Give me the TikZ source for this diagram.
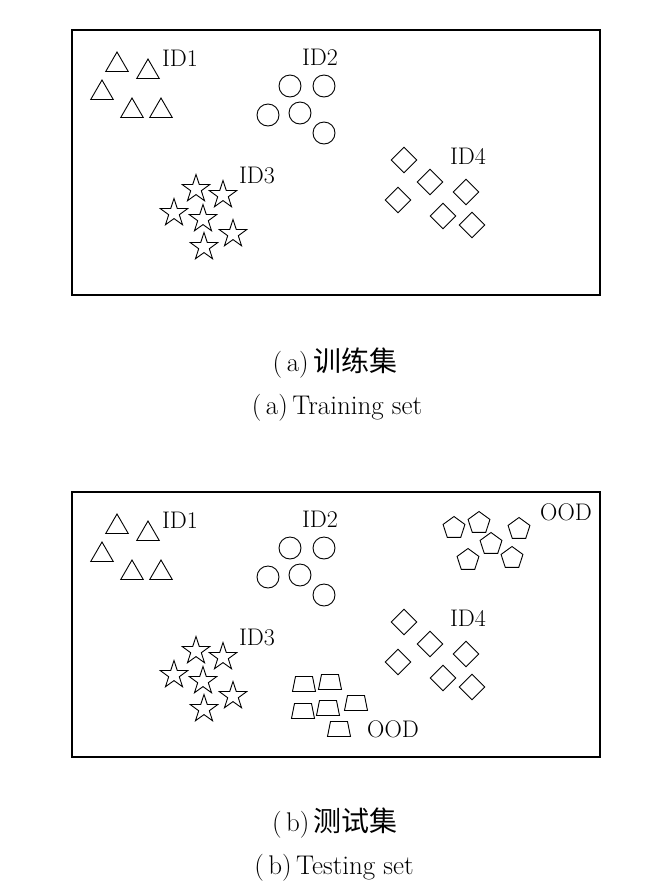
\documentclass[tikz,border=0pt]{standalone}
\usepackage{fontspec}
\newfontfamily\cjk{Noto Sans CJK SC}
\usetikzlibrary{shapes.geometric}

\tikzset{
  pt/.style={draw=black, line width=0.9pt, inner sep=0pt},
  tri/.style={pt, regular polygon, regular polygon sides=3, minimum size=26pt},
  ring/.style={pt, circle, minimum size=22pt},
  starpt/.style={pt, star, star points=5, star point ratio=2.6, minimum size=29pt},
  dia/.style={pt, diamond, minimum width=26pt, minimum height=26pt},
  penta/.style={pt, regular polygon, regular polygon sides=5, minimum size=23pt},
  lab/.style={inner sep=0pt, font=\fontsize{24}{26}\selectfont},
  captext/.style={inner sep=0pt, font=\fontsize{27}{29}\selectfont},
  frame/.style={draw=black, line width=1.6pt}
}

\begin{document}
\begin{tikzpicture}[x=1pt,y=-1pt]
  \useasboundingbox (0,0) rectangle (660,895);

  % the clusters seen in both panels
  \foreach \p/\dy in {a/0,b/462}{
    \begin{scope}[yshift=-\dy pt]
      \draw[frame] (72,30) rectangle (600,295);
      \foreach \x/\y [count=\i] in {117/65,148/72,102/93,132/111,161/111}
        \node[tri] (tri\p\i) at (\x,\y) {};
      \foreach \x/\y [count=\i] in {290/86,324/86,268/115,300/113,324/133}
        \node[ring] (ring\p\i) at (\x,\y) {};
      \foreach \x/\y [count=\i] in {196/189,223/195,174/213,203/219,233/234,204/247}
        \node[starpt] (star\p\i) at (\x,\y) {};
      \foreach \x/\y [count=\i] in {404/160,430/182,398/200,466/192,443/216,472/225}
        \node[dia] (dia\p\i) at (\x,\y) {};
      \node[lab] (id1\p) at (180,58) {ID1};
      \node[lab] (id2\p) at (320,57) {ID2};
      \node[lab] (id3\p) at (257,175) {ID3};
      \node[lab] (id4\p) at (468,156) {ID4};
    \end{scope}
  }

  % the out-of-distribution clusters, test set only
  \foreach \x/\y [count=\i] in {454/528,479/523,519/529,491/544,468/560,512/558}
    \node[penta] (penta\i) at (\x,\y) {};
  \foreach \x/\y [count=\i] in {304/684,330/682,303/711,328/708,356/703,339/729}{
    \coordinate (trap\i) at (\x,\y);
    \draw[pt, line join=miter] (trap\i) ++(-11.5,7.5) -- ++(23,0) -- ++(-3,-15)
      -- ++(-17,0) -- cycle;
  }
  \node[lab] (ood1) at (566,512) {OOD};
  \node[lab] (ood2) at (393,729) {OOD};

  % captions
  \node[captext] (capa) at (335,363) {(\,a)\,{\cjk\fontsize{28}{30}\selectfont 训练集}};
  \node[captext] (capaen) at (337,408) {(\,a)\,Training set};
  \node[captext] (capb) at (335,823) {(\,b)\,{\cjk\fontsize{28}{30}\selectfont 测试集}};
  \node[captext] (capben) at (334,868) {(\,b)\,Testing set};
\end{tikzpicture}
\end{document}
